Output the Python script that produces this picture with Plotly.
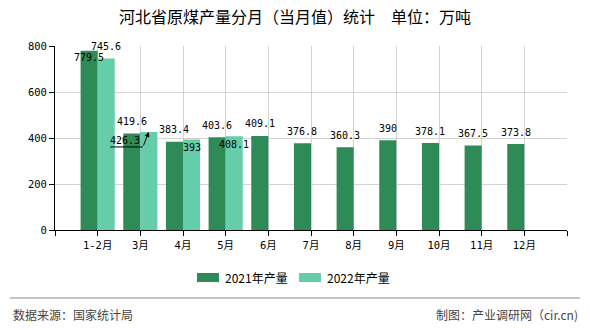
import plotly.graph_objects as go

months = ["1-2月", "3月", "4月", "5月", "6月", "7月", "8月", "9月", "10月", "11月", "12月"]
v2021 = [779.5, 419.6, 383.4, 403.6, 409.1, 376.8, 360.3, 390, 378.1, 367.5, 373.8]
v2022 = [745.6, 426.3, 393, 408.1]
names = ["2021年产量", "2022年产量"]
colors = ["#2E8B57", "#66CDAA"]
title = "河北省原煤产量分月（当月值）统计　单位：万吨"
source_left = "数据来源：国家统计局"
source_right = "制图：产业调研网（cir.cn)"

W, H = 590, 330
ML, MR, MT, MB = 55, 23, 46, 100
PW, PH = W - ML - MR, H - MT - MB


def px(x):
    return (x - ML) / PW


def py(y):
    return (H - MB - y) / PH


fig = go.Figure()
fig.add_trace(go.Bar(x=list(range(len(v2021))), y=v2021, name=names[0],
                     marker_color=colors[0], marker_line_width=0))
fig.add_trace(go.Bar(x=list(range(len(v2022))), y=v2022, name=names[1],
                     marker_color=colors[1], marker_line_width=0))

lab_font = dict(family="DejaVu Sans Mono, Liberation Mono, monospace", size=10, color="#000")
ann = []
# 2021 labels
for i, v in enumerate(v2021):
    ys = -7 if i == 0 else 12
    ann.append(dict(x=i - 0.2, y=v, xref="x", yref="y", text=f"{v:g}", showarrow=False,
                    yshift=ys, font=lab_font, xanchor="center", yanchor="middle"))
# 2022 labels
for i, v in enumerate(v2022):
    if i == 1:
        ann.append(dict(x=i + 0.2, y=v, xref="x", yref="y", text=f"{v:g}", showarrow=False,
                        xshift=-23.5, yshift=-9, font=lab_font, xanchor="center", yanchor="middle"))
        ann.append(dict(x=i + 0.2, y=v, xref="x", yref="y", text="", showarrow=True,
                        ax=-6, ay=15, arrowhead=2, arrowsize=1, arrowwidth=1, arrowcolor="#000",
                        standoff=0, startstandoff=0))
        continue
    ys = 12 if i == 0 else -8
    ann.append(dict(x=i + 0.2, y=v, xref="x", yref="y", text=f"{v:g}", showarrow=False,
                    yshift=ys, font=lab_font, xanchor="center", yanchor="middle"))

shapes = [
    # underline of the 426.3 callout
    dict(type="line", xref="x", yref="y", xsizemode="pixel", ysizemode="pixel",
         xanchor=1.2, yanchor=v2022[1], x0=-38.5, x1=-6, y0=-15, y1=-15,
         line=dict(color="#000", width=1)),
    # footer rule
    dict(type="line", xref="paper", yref="paper", x0=px(10), x1=px(580), y0=py(298), y1=py(298),
         line=dict(color="#888", width=1)),
]

# custom legend
leg = [(197, 219, 223, names[0], colors[0]), (299, 321, 325, names[1], colors[1])]
for x0, x1, tx, nm, c in leg:
    shapes.append(dict(type="rect", xref="paper", yref="paper", x0=px(x0), x1=px(x1),
                       y0=py(282), y1=py(273), fillcolor=c, line=dict(width=0)))
    ann.append(dict(x=px(tx), y=py(277.5), xref="paper", yref="paper", text=nm, showarrow=False,
                    xanchor="left", yanchor="middle",
                    font=dict(family="Noto Sans CJK SC", size=12, color="#000")))

foot_font = dict(family="Noto Sans CJK SC", size=12, color="#444")
ann.append(dict(x=px(11), y=py(314), xref="paper", yref="paper", text=source_left, showarrow=False,
                xanchor="left", yanchor="middle", font=foot_font))
ann.append(dict(x=px(580), y=py(314), xref="paper", yref="paper", text=source_right, showarrow=False,
                xanchor="right", yanchor="middle", font=foot_font))

tick_font = dict(family="DejaVu Sans Mono, Noto Sans CJK SC", size=10.5, color="#000")
fig.update_layout(
    width=W, height=H,
    margin=dict(l=ML, r=MR, t=MT, b=MB, pad=0),
    paper_bgcolor="#fff", plot_bgcolor="#fff",
    barmode="group", bargap=0.2, bargroupgap=0,
    showlegend=False,
    title=dict(text=title, x=0.5, xref="container", xanchor="center",
               y=1 - 17 / H, yref="container", yanchor="middle",
               font=dict(family="Noto Sans CJK SC", size=16, color="#000")),
    xaxis=dict(range=[-1, 11], tickmode="array", tickvals=list(range(-1, 12)),
               ticktext=[""] + months + [""], showgrid=True, gridcolor="#d3d3d3", gridwidth=1,
               showline=True, linecolor="#000", linewidth=1, ticks="outside", ticklen=5,
               tickcolor="#000", zeroline=False, tickfont=tick_font),
    yaxis=dict(range=[0, 800], tickmode="array", tickvals=[0, 200, 400, 600, 800],
               showgrid=True, gridcolor="#d3d3d3", gridwidth=1,
               showline=True, linecolor="#000", linewidth=1, ticks="outside", ticklen=5,
               tickcolor="#000", zeroline=False, tickfont=tick_font),
    annotations=ann,
    shapes=shapes,
)

fig.write_html("out.html")
